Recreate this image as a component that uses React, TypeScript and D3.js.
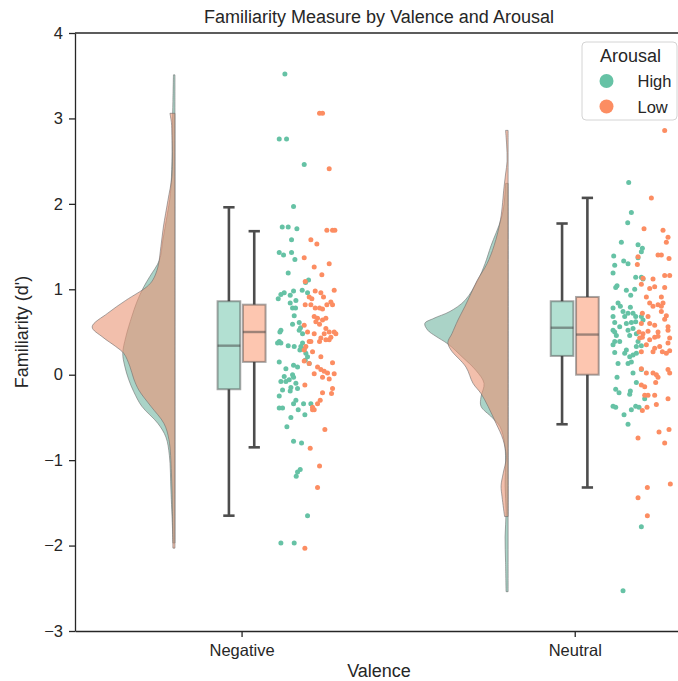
import React, { useRef, useEffect } from 'react';
import * as d3 from 'd3';

const valences = ['Negative', 'Neutral'];
const arousals = ['High', 'Low'];
const pointColors = ['#66c2a5', '#fc8d62'];
const violinColors = ['#71b6a1', '#e99575'];
const yTicks = [-3, -2, -1, 0, 1, 2, 3, 4];

// half-violin outlines: [value, density]
const negHighDensity = [
  [3.51, 1.5], [3.2, 2], [2.9, 2.5], [2.5, 3], [2.12, 4.5], [1.85, 8], [1.58, 12], [1.34, 15.5],
  [1.15, 25], [1.03, 31], [0.85, 38], [0.68, 43], [0.44, 49], [0.25, 52], [0.1, 50], [-0.06, 46],
  [-0.2, 41], [-0.37, 33], [-0.57, 17], [-0.73, 9], [-0.95, 5.5], [-1.35, 4], [-1.78, 2.5], [-1.97, 2],
];
const negLowDensity = [
  [3.06, 5], [2.95, 3.5], [2.8, 3], [2.55, 2.5], [2.32, 3], [2.04, 7], [1.73, 11.5], [1.5, 14],
  [1.26, 17], [1.11, 22], [1.03, 28], [0.87, 49], [0.72, 67], [0.56, 82.5], [0.44, 72], [0.33, 59],
  [0.25, 51], [0.1, 45], [-0.05, 41], [-0.18, 36], [-0.37, 24], [-0.57, 11], [-0.76, 6], [-1.15, 3.5],
  [-1.6, 2.5], [-2.03, 2],
];
const neuHighDensity = [
  [2.24, 2.5], [2.0, 4], [1.82, 7], [1.51, 17], [1.3, 23], [1.11, 30], [0.87, 43], [0.74, 58],
  [0.66, 74], [0.6, 83], [0.52, 80], [0.45, 72], [0.36, 60], [0.2, 45], [0.05, 32], [-0.1, 24],
  [-0.26, 27], [-0.37, 27], [-0.5, 16], [-0.61, 8], [-0.8, 3.5], [-1.0, 2.5], [-1.3, 3], [-1.6, 2],
  [-1.9, 3], [-2.2, 2.5], [-2.54, 2],
];
const neuLowDensity = [
  [2.86, 2.5], [2.7, 1.5], [2.5, 1], [2.35, 2.5], [2.2, 4], [1.82, 7.5], [1.51, 14], [1.3, 21],
  [1.1, 31], [0.95, 37], [0.8, 43], [0.64, 50], [0.48, 56], [0.38, 60], [0.29, 57], [0.09, 42],
  [-0.1, 35], [-0.22, 27], [-0.37, 20], [-0.57, 12], [-0.76, 5], [-0.97, 2], [-1.16, 5], [-1.3, 7],
  [-1.43, 6], [-1.66, 3.5],
];

// box stats: [min, q1, median, q3, max]
const negHighBox = [-1.65, -0.17, 0.34, 0.86, 1.96];
const negLowBox = [-0.85, 0.15, 0.5, 0.82, 1.68];
const neuHighBox = [-0.58, 0.22, 0.55, 0.86, 1.77];
const neuLowBox = [-1.32, 0.0, 0.47, 0.91, 2.07];

// strip points: [jitter offset from category, value]
const negHighPoints = [
  [0.13, 3.52], [0.113, 2.76], [0.135, 2.76], [0.188, 2.46], [0.156, 1.97], [0.122, 1.73], [0.14, 1.73],
  [0.166, 1.71], [0.15, 1.58], [0.113, 1.43], [0.126, 1.4], [0.15, 1.43], [0.16, 1.35], [0.14, 1.19],
  [0.201, 1.11], [0.192, 1.08], [0.128, 0.96], [0.118, 0.94], [0.11, 0.89], [0.156, 0.98], [0.146, 0.93],
  [0.182, 0.99], [0.198, 0.96], [0.163, 0.87], [0.146, 0.84], [0.153, 0.78], [0.162, 0.78], [0.158, 0.69],
  [0.153, 0.59], [0.173, 0.61], [0.177, 0.55], [0.173, 0.52], [0.118, 0.52], [0.115, 0.5], [0.183, 0.48],
  [0.113, 0.39], [0.118, 0.37], [0.108, 0.37], [0.14, 0.34], [0.158, 0.33], [0.183, 0.37], [0.178, 0.33],
  [0.188, 0.3], [0.175, 0.29], [0.193, 0.25], [0.198, 0.21], [0.191, 0.17], [0.203, 0.13], [0.113, 0.15],
  [0.133, 0.07], [0.156, 0.11], [0.168, 0.09], [0.128, -0.02], [0.153, 0.0], [0.156, -0.03], [0.118, -0.08],
  [0.133, -0.08], [0.143, -0.06], [0.163, -0.1], [0.148, -0.15], [0.146, -0.19], [0.123, -0.18], [0.168, -0.16],
  [0.113, -0.25], [0.163, -0.3], [0.156, -0.34], [0.186, -0.34], [0.208, -0.34], [0.113, -0.39], [0.123, -0.39],
  [0.17, -0.41], [0.19, -0.47], [0.148, -0.5], [0.136, -0.61], [0.156, -0.78], [0.18, -0.8], [0.176, -1.11],
  [0.168, -1.14], [0.164, -1.19], [0.198, -1.65], [0.118, -1.97], [0.158, -1.97],
];
const negLowPoints = [
  [0.234, 3.06], [0.243, 3.06], [0.263, 2.41], [0.256, 1.69], [0.273, 1.69], [0.28, 1.69], [0.208, 1.58],
  [0.226, 1.53], [0.188, 1.37], [0.263, 1.3], [0.218, 1.26], [0.241, 1.17], [0.191, 1.09], [0.278, 0.99],
  [0.221, 0.98], [0.238, 0.96], [0.203, 0.91], [0.211, 0.89], [0.246, 0.91], [0.268, 0.85], [0.273, 0.82],
  [0.256, 0.82], [0.191, 0.82], [0.208, 0.82], [0.221, 0.78], [0.234, 0.78], [0.243, 0.77], [0.218, 0.68],
  [0.228, 0.66], [0.243, 0.64], [0.253, 0.66], [0.234, 0.59], [0.223, 0.62], [0.188, 0.58], [0.253, 0.54],
  [0.263, 0.5], [0.278, 0.5], [0.283, 0.48], [0.248, 0.48], [0.268, 0.44], [0.263, 0.41], [0.253, 0.41],
  [0.198, 0.5], [0.218, 0.48], [0.203, 0.39], [0.208, 0.39], [0.193, 0.33], [0.188, 0.29], [0.234, 0.39],
  [0.238, 0.43], [0.213, 0.27], [0.238, 0.21], [0.188, 0.16], [0.203, 0.13], [0.273, 0.14], [0.228, 0.09],
  [0.238, 0.06], [0.248, 0.04], [0.258, 0.02], [0.278, 0.01], [0.218, 0.01], [0.243, -0.03], [0.263, -0.05],
  [0.19, -0.12], [0.273, -0.16], [0.27, -0.22], [0.243, -0.21], [0.236, -0.3], [0.228, -0.34], [0.213, -0.38],
  [0.218, -0.41], [0.213, -0.41], [0.25, -0.64], [0.206, -0.86], [0.234, -1.07], [0.228, -1.32], [0.19, -2.03],
];
const neuHighPoints = [
  [0.162, 2.25], [0.17, 1.9], [0.159, 1.78], [0.14, 1.55], [0.19, 1.52], [0.203, 1.48], [0.2, 1.44],
  [0.117, 1.39], [0.19, 1.37], [0.147, 1.33], [0.16, 1.3], [0.12, 1.28], [0.115, 1.19], [0.183, 1.14],
  [0.2, 1.14], [0.205, 1.12], [0.127, 1.04], [0.123, 1.02], [0.155, 0.99], [0.18, 1.0], [0.168, 0.93],
  [0.13, 0.84], [0.137, 0.8], [0.115, 0.78], [0.167, 0.79], [0.145, 0.74], [0.16, 0.72], [0.175, 0.72],
  [0.15, 0.68], [0.115, 0.68], [0.12, 0.61], [0.183, 0.68], [0.2, 0.68], [0.205, 0.64], [0.183, 0.62],
  [0.155, 0.6], [0.17, 0.61], [0.135, 0.56], [0.115, 0.52], [0.12, 0.5], [0.125, 0.46], [0.16, 0.52],
  [0.175, 0.54], [0.185, 0.48], [0.165, 0.46], [0.12, 0.39], [0.135, 0.39], [0.115, 0.35], [0.19, 0.39],
  [0.185, 0.33], [0.2, 0.34], [0.12, 0.26], [0.155, 0.29], [0.15, 0.25], [0.175, 0.23], [0.185, 0.25],
  [0.165, 0.21], [0.13, 0.13], [0.16, 0.13], [0.17, 0.15], [0.175, 0.02], [0.2, 0.06], [0.127, -0.03],
  [0.185, -0.09], [0.123, -0.17], [0.133, -0.21], [0.167, -0.19], [0.165, -0.23], [0.21, -0.28],
  [0.115, -0.37], [0.123, -0.38], [0.183, -0.37], [0.193, -0.38], [0.17, -0.41], [0.148, -0.47],
  [0.16, -0.58], [0.2, -1.78], [0.145, -2.53],
];
const neuLowPoints = [
  [0.27, 2.86], [0.23, 2.07], [0.208, 1.71], [0.265, 1.69], [0.28, 1.61], [0.275, 1.55], [0.19, 1.38],
  [0.25, 1.4], [0.26, 1.4], [0.283, 1.36], [0.188, 1.29], [0.27, 1.16], [0.285, 1.16], [0.205, 1.13],
  [0.235, 1.12], [0.2, 1.06], [0.24, 1.03], [0.225, 1.01], [0.27, 1.02], [0.215, 0.91], [0.26, 0.91],
  [0.225, 0.84], [0.25, 0.82], [0.265, 0.84], [0.26, 0.8], [0.235, 0.8], [0.203, 0.72], [0.22, 0.68],
  [0.275, 0.69], [0.26, 0.74], [0.27, 0.65], [0.225, 0.6], [0.2, 0.6], [0.24, 0.58], [0.28, 0.56],
  [0.193, 0.5], [0.205, 0.48], [0.22, 0.51], [0.25, 0.5], [0.28, 0.52], [0.203, 0.44], [0.225, 0.41],
  [0.24, 0.44], [0.25, 0.45], [0.195, 0.43], [0.28, 0.37], [0.285, 0.43], [0.255, 0.33], [0.24, 0.31],
  [0.215, 0.35], [0.2, 0.27], [0.235, 0.27], [0.263, 0.27], [0.275, 0.25], [0.285, 0.28], [0.2, 0.07],
  [0.215, 0.02], [0.235, 0.02], [0.245, 0.0], [0.28, 0.06], [0.285, 0.02], [0.25, -0.03], [0.243, -0.09],
  [0.2, -0.12], [0.21, -0.14], [0.21, -0.24], [0.22, -0.24], [0.24, -0.24], [0.28, -0.28], [0.217, -0.38],
  [0.245, -0.35], [0.203, -0.42], [0.253, -0.67], [0.283, -0.64], [0.27, -0.8], [0.19, -0.74],
  [0.218, -1.32], [0.287, -1.28], [0.19, -1.44], [0.218, -1.65],
];

const densities = [[negHighDensity, negLowDensity], [neuHighDensity, neuLowDensity]];
const boxes = [[negHighBox, negLowBox], [neuHighBox, neuLowBox]];
const points = [[negHighPoints, negLowPoints], [neuHighPoints, neuLowPoints]];

const W = 678;
const H = 681;
const FONT = '"Liberation Sans", Arial, sans-serif';
const INK = '#262626';

const App: React.FC = () => {
  const svgRef = useRef<SVGSVGElement>(null);

  useEffect(() => {
    if (!svgRef.current) return;
    const svg = d3.select(svgRef.current);
    svg.selectAll('*').remove();

    const left = 75, right = 683, top = 33, bottom = 631;

    const x = d3.scaleLinear().domain([-0.5, 1.325]).range([left, right]);
    const y = d3.scaleLinear().domain([-3, 4]).range([bottom, top]);

    const maxDens = d3.max(densities.flat(2), (d: any) => d[1]) as number;
    const dens = d3.scaleLinear().domain([0, maxDens]).range([0, 0.25]);

    const violinOffset = -0.2;
    const boxOffsets = [-0.038, 0.038];
    const boxWidth = 0.068;

    // half violins
    valences.forEach((_, vi) => {
      arousals.forEach((_, ai) => {
        const base = vi + violinOffset;
        const area = d3.area<number[]>()
          .y(d => y(d[0]))
          .x0(x(base))
          .x1(d => x(base - dens(d[1])))
          .curve(d3.curveCatmullRom.alpha(0.5));
        svg.append('path')
          .attr('d', area(densities[vi][ai] as number[][]) as string)
          .attr('fill', violinColors[ai])
          .attr('fill-opacity', 0.6)
          .attr('stroke', '#6e6e6e')
          .attr('stroke-opacity', 0.6)
          .attr('stroke-width', 1);
      });
    });

    // boxes
    valences.forEach((_, vi) => {
      arousals.forEach((_, ai) => {
        const [mn, q1, med, q3, mx] = boxes[vi][ai];
        const cx = vi + boxOffsets[ai];
        const g = svg.append('g');
        g.append('line')
          .attr('x1', x(cx)).attr('x2', x(cx))
          .attr('y1', y(q3)).attr('y2', y(mx))
          .attr('stroke', '#4d4d4d').attr('stroke-width', 2.6);
        g.append('line')
          .attr('x1', x(cx)).attr('x2', x(cx))
          .attr('y1', y(q1)).attr('y2', y(mn))
          .attr('stroke', '#4d4d4d').attr('stroke-width', 2.6);
        [mn, mx].forEach(v => {
          g.append('line')
            .attr('x1', x(cx - boxWidth / 4)).attr('x2', x(cx + boxWidth / 4))
            .attr('y1', y(v)).attr('y2', y(v))
            .attr('stroke', '#4d4d4d').attr('stroke-width', 2.6);
        });
        g.append('rect')
          .attr('x', x(cx - boxWidth / 2))
          .attr('width', x(cx + boxWidth / 2) - x(cx - boxWidth / 2))
          .attr('y', y(q3))
          .attr('height', y(q1) - y(q3))
          .attr('fill', pointColors[ai]).attr('fill-opacity', 0.5)
          .attr('stroke', '#3f3f3f').attr('stroke-opacity', 0.45).attr('stroke-width', 2);
        g.append('line')
          .attr('x1', x(cx - boxWidth / 2)).attr('x2', x(cx + boxWidth / 2))
          .attr('y1', y(med)).attr('y2', y(med))
          .attr('stroke', '#3f3f3f').attr('stroke-opacity', 0.5).attr('stroke-width', 2.4);
      });
    });

    // strip points
    valences.forEach((_, vi) => {
      arousals.forEach((_, ai) => {
        svg.append('g')
          .selectAll('circle')
          .data(points[vi][ai])
          .enter()
          .append('circle')
          .attr('cx', d => x(vi + d[0]))
          .attr('cy', d => y(d[1]))
          .attr('r', 2.5)
          .attr('fill', pointColors[ai]);
      });
    });

    // axes
    const yAxis = d3.axisLeft(y).tickValues(yTicks).tickFormat(d3.format('d'))
      .tickSize(6).tickPadding(6).tickSizeOuter(0);
    const yG = svg.append('g').attr('transform', `translate(${left},0)`).call(yAxis);
    const xAxis = d3.axisBottom(x).tickValues([0, 1])
      .tickFormat((_, i) => valences[i]).tickSize(6).tickPadding(7).tickSizeOuter(0);
    const xG = svg.append('g').attr('transform', `translate(0,${bottom})`).call(xAxis);
    [yG, xG].forEach(g => {
      g.select('.domain').attr('stroke', INK).attr('stroke-width', 1.3);
      g.selectAll('.tick line').attr('stroke', INK).attr('stroke-width', 1.3);
      g.selectAll('.tick text')
        .attr('fill', INK)
        .style('font-family', FONT)
        .style('font-size', '16.5px');
    });
    svg.append('line')
      .attr('x1', left).attr('x2', right).attr('y1', top).attr('y2', top)
      .attr('stroke', INK).attr('stroke-width', 1.3);

    // titles
    const cxAxes = (left + right) / 2;
    svg.append('text')
      .attr('x', cxAxes).attr('y', 23)
      .attr('text-anchor', 'middle')
      .attr('fill', INK)
      .style('font-family', FONT).style('font-size', '18px')
      .text('Familiarity Measure by Valence and Arousal');
    svg.append('text')
      .attr('x', cxAxes).attr('y', 677)
      .attr('text-anchor', 'middle')
      .attr('fill', INK)
      .style('font-family', FONT).style('font-size', '18px')
      .text('Valence');
    svg.append('text')
      .attr('transform', `translate(28,${(top + bottom) / 2}) rotate(-90)`)
      .attr('text-anchor', 'middle')
      .attr('fill', INK)
      .style('font-family', FONT).style('font-size', '18px')
      .text("Familiarity (d')");

    // legend
    const lg = svg.append('g').attr('transform', 'translate(582,42)');
    lg.append('rect')
      .attr('width', 95).attr('height', 78).attr('rx', 4)
      .attr('fill', '#ffffff').attr('fill-opacity', 0.8)
      .attr('stroke', '#d4d4d4').attr('stroke-width', 1);
    lg.append('text')
      .attr('x', 18).attr('y', 20)
      .attr('fill', INK)
      .style('font-family', FONT).style('font-size', '18px')
      .text('Arousal');
    arousals.forEach((a, i) => {
      lg.append('circle')
        .attr('cx', 24.5).attr('cy', 39 + i * 25.5).attr('r', 7)
        .attr('fill', pointColors[i]);
      lg.append('text')
        .attr('x', 55.5).attr('y', 45 + i * 25.5)
        .attr('fill', INK)
        .style('font-family', FONT).style('font-size', '16.5px')
        .text(a);
    });
  }, []);

  return (
    <svg
      ref={svgRef}
      width={W}
      height={H}
      style={{ position: 'absolute', left: 0, top: 0, background: '#ffffff' }}
    />
  );
};

export default App;
